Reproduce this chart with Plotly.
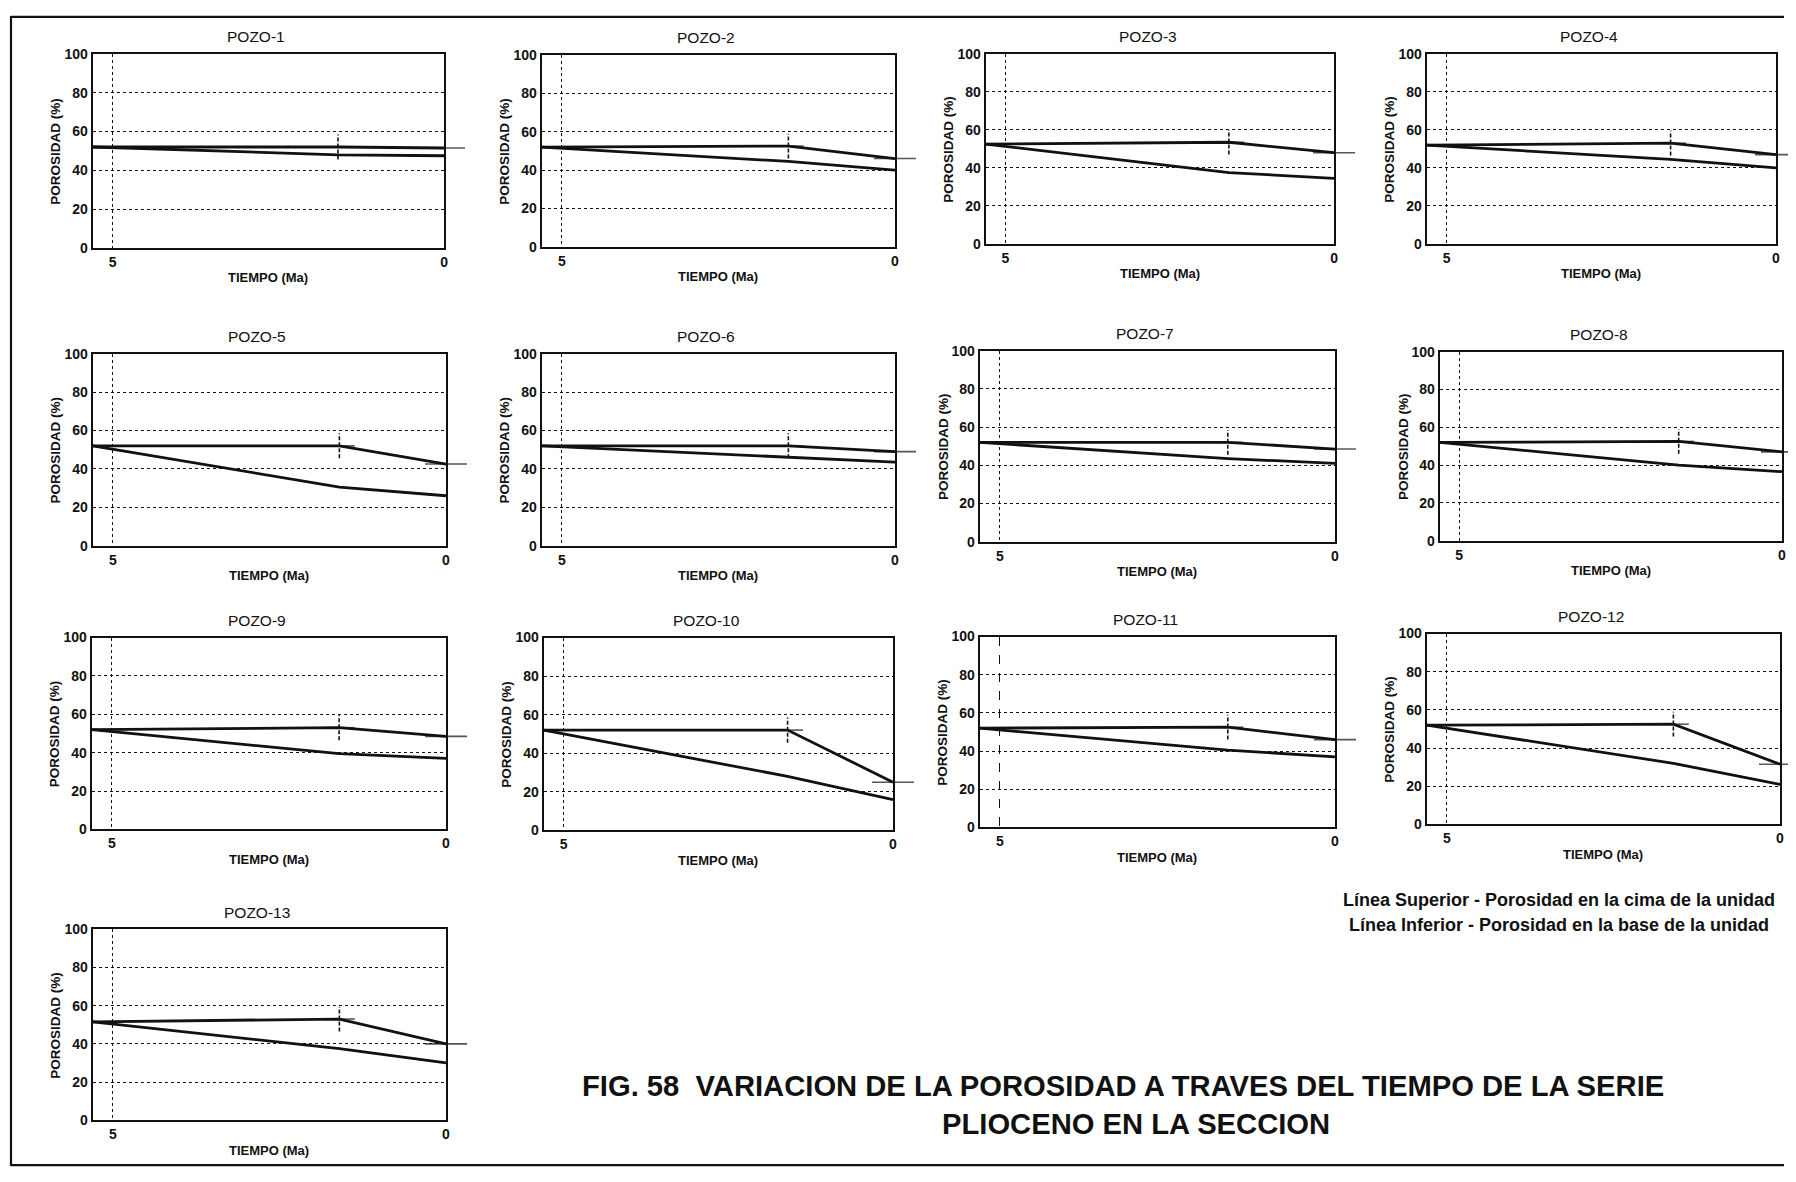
import plotly.graph_objects as go

# ---------------- data ----------------
wells = ["POZO-1", "POZO-2", "POZO-3", "POZO-4", "POZO-5", "POZO-6", "POZO-7",
         "POZO-8", "POZO-9", "POZO-10", "POZO-11", "POZO-12", "POZO-13"]
time_ma = [5.3, 1.6, 0.0]          # tiempo (Ma)
# porosidad en la cima de la unidad (línea superior)
porosity_top = [
    [52, 52, 51.5],
    [52, 52.5, 46],
    [52.5, 53.5, 48],
    [52, 53, 47],
    [52, 52, 42.5],
    [52, 52, 49],
    [52, 52, 48.5],
    [52, 52.5, 47],
    [52, 53, 48.5],
    [52, 52, 25],
    [52, 52.5, 46],
    [52, 52.5, 31.5],
    [51.5, 53, 40],
]
# porosidad en la base de la unidad (línea inferior)
porosity_base = [
    [52, 48, 47.5],
    [52, 44.5, 40],
    [52.5, 37.5, 34.5],
    [52, 44.5, 40],
    [52, 30.5, 26],
    [52, 46, 43.5],
    [52, 43.5, 41],
    [52, 40, 36.5],
    [52, 39.5, 37],
    [52, 28, 16],
    [52, 40.5, 37],
    [52, 32, 21],
    [51.5, 37.5, 30],
]
y_ticks = [0, 20, 40, 60, 80, 100]
x_ticks = [5, 0]
x_tick_labels = ["5", "0"]

title_line1 = "FIG. 58  VARIACION DE LA POROSIDAD A TRAVES DEL TIEMPO DE LA SERIE"
title_line2 = "PLIOCENO EN LA SECCION"
legend_line1 = "Línea Superior - Porosidad en la cima de la unidad"
legend_line2 = "Línea Inferior - Porosidad en la base de la unidad"

# ---------------- layout (screen pixels of the 1796x1182 page) ----------------
PAGE_W, PAGE_H = 1796, 1182
BODY = 8                              # default page margin around the figure
W, H = PAGE_W - 2 * BODY, PAGE_H - 2 * BODY
Y_OFF, Y_SCALE = 15.0, 0.987          # observed vertical placement of the figure on the page
# left, right, top, bottom of each plot frame (screen pixels)
boxes = [
    (93, 445, 53, 247), (543, 897, 54, 246), (988, 1337, 53, 243), (1430, 1780, 53, 243),
    (93, 447, 353, 545), (543, 897, 353, 545), (982, 1338, 350, 541), (1443, 1786, 351, 540),
    (92, 447, 637, 829), (545, 895, 637, 830), (982, 1338, 636, 827), (1430, 1784, 633, 824),
    (93, 447, 929, 1120),
]
FONT = "Liberation Sans, Arial, sans-serif"
INK = "#111111"

fig = go.Figure()
annotations = []
shapes = []


def px(x):
    return min(1.0, max(0.0, (x - BODY) / W))


def py(y):
    yf = (y - Y_OFF) / Y_SCALE
    return min(1.0, max(0.0, 1 - yf / H))


for i, name in enumerate(wells):
    l, r, t, b = boxes[i]
    n = "" if i == 0 else str(i + 1)
    xa, ya = "x" + n, "y" + n
    top = porosity_top[i]
    base = porosity_base[i]

    # lower line
    fig.add_trace(go.Scatter(x=time_ma, y=base, mode="lines", xaxis=xa, yaxis=ya,
                             line=dict(color=INK, width=2.8), showlegend=False,
                             hoverinfo="skip"))
    # upper line
    fig.add_trace(go.Scatter(x=time_ma, y=top, mode="lines", xaxis=xa, yaxis=ya,
                             line=dict(color=INK, width=2.8), showlegend=False,
                             hoverinfo="skip"))
    # dashed vertical mark at the break point of the upper line
    fig.add_trace(go.Scatter(x=[time_ma[1], time_ma[1]], y=[top[1] - 6.5, top[1] + 6.5],
                             mode="lines", xaxis=xa, yaxis=ya,
                             line=dict(color=INK, width=1.6, dash="4px,2px"),
                             showlegend=False, hoverinfo="skip"))
    # horizontal tick marks at the break and at the end of the upper line
    fig.add_trace(go.Scatter(x=[time_ma[1], time_ma[2]], y=[top[1], top[2]],
                             mode="markers", xaxis=xa, yaxis=ya, cliponaxis=False,
                             marker=dict(symbol="line-ew", size=[22, 30],
                                         line=dict(color=INK, width=1.6)),
                             showlegend=False, hoverinfo="skip"))

    vdash = "dash" if name == "POZO-11" else "dot"
    fig.layout["xaxis" + n] = dict(
        domain=[px(l), px(r)], anchor=ya, range=[5.3, 0],
        tickmode="array", tickvals=x_ticks, ticktext=x_tick_labels,
        showgrid=True, gridcolor=INK, gridwidth=1.2, griddash=vdash,
        zeroline=False, showline=True, mirror=True, linecolor=INK, linewidth=2.3,
        ticks="", tickfont=dict(family=FONT, size=14, color=INK, weight="bold"),
        fixedrange=True,
    )
    fig.layout["yaxis" + n] = dict(
        domain=[py(b), py(t)], anchor=xa, range=[0, 100],
        tickmode="array", tickvals=y_ticks,
        showgrid=True, gridcolor=INK, gridwidth=1.2, griddash="dot",
        zeroline=False, showline=True, mirror=True, linecolor=INK, linewidth=2.3,
        ticks="", tickfont=dict(family=FONT, size=14, color=INK, weight="bold"),
        fixedrange=True,
    )
    cx = (l + r) / 2
    cy = (t + b) / 2
    annotations.append(dict(text=name, x=px(cx - 12), y=py(t - 17), xref="paper", yref="paper",
                            showarrow=False, xanchor="center", yanchor="middle",
                            font=dict(family=FONT, size=15.5, color=INK)))
    annotations.append(dict(text="POROSIDAD (%)", x=px(l - 37), y=py(cy), xref="paper",
                            yref="paper", showarrow=False, textangle=-90,
                            xanchor="center", yanchor="middle",
                            font=dict(family=FONT, size=13.5, color=INK, weight="bold")))
    annotations.append(dict(text="TIEMPO (Ma)", x=px(cx), y=py(b + 30), xref="paper",
                            yref="paper", showarrow=False, xanchor="center", yanchor="middle",
                            font=dict(family=FONT, size=13, color=INK, weight="bold")))

# legend text and figure title
annotations.append(dict(text=legend_line1, x=px(1562), y=py(900), xref="paper", yref="paper",
                        showarrow=False, xanchor="center", yanchor="middle",
                        font=dict(family=FONT, size=18, color=INK, weight="bold")))
annotations.append(dict(text=legend_line2, x=px(1562), y=py(925), xref="paper", yref="paper",
                        showarrow=False, xanchor="center", yanchor="middle",
                        font=dict(family=FONT, size=18, color=INK, weight="bold")))
annotations.append(dict(text=title_line1, x=px(1126), y=py(1086), xref="paper", yref="paper",
                        showarrow=False, xanchor="center", yanchor="middle",
                        font=dict(family=FONT, size=29.2, color=INK, weight="bold")))
annotations.append(dict(text=title_line2, x=px(1139), y=py(1124), xref="paper", yref="paper",
                        showarrow=False, xanchor="center", yanchor="middle",
                        font=dict(family=FONT, size=29.2, color=INK, weight="bold")))

# page frame
frame = dict(type="line", xref="paper", yref="paper", line=dict(color=INK, width=2.2))
shapes.append(dict(frame, x0=px(11), x1=px(11), y0=py(9), y1=py(1178)))
shapes.append(dict(frame, x0=px(11), x1=1, y0=py(9) - 0.0008, y1=py(9) - 0.0008))
shapes.append(dict(frame, x0=px(11), x1=1, y0=py(1178) + 0.0008, y1=py(1178) + 0.0008))

fig.update_layout(
    width=W, height=H, margin=dict(l=0, r=0, t=0, b=0),
    paper_bgcolor="white", plot_bgcolor="white",
    annotations=annotations, shapes=shapes, showlegend=False,
    font=dict(family=FONT, color=INK),
)

fig.write_html("out.html")
